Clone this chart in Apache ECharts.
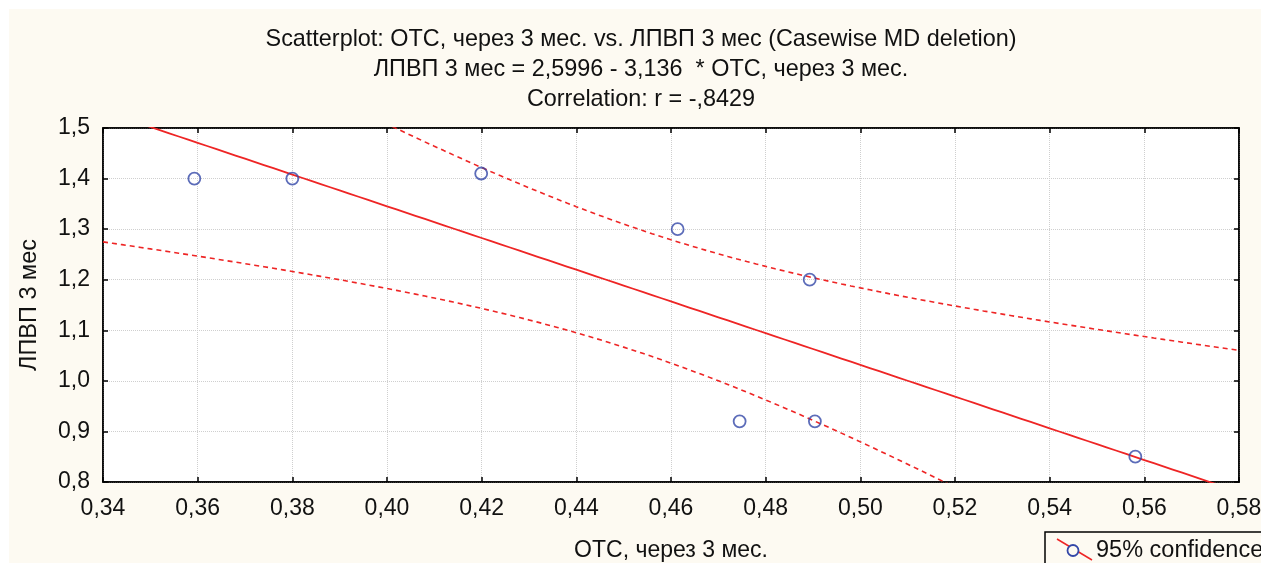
<!DOCTYPE html>
<html>
<head>
<meta charset="utf-8">
<script src="https://cdn.jsdelivr.net/npm/echarts@6/dist/echarts.min.js"></script>
<style>
html,body{margin:0;padding:0;background:#fff;}
#chart{width:1261px;height:563px;}
</style>
</head>
<body>
<div id="chart"></div>
<script>
// ---- data ----
var otcValues = [0.3593, 0.3800, 0.4199, 0.4614, 0.4893, 0.4745, 0.4904, 0.5581];
var hdlValues = [1.40, 1.40, 1.41, 1.30, 1.20, 0.92, 0.92, 0.85];
var titleLines = [
  'Scatterplot: OTC, через 3 мес. vs. ЛПВП 3 мес (Casewise MD deletion)',
  'ЛПВП 3 мес = 2,5996 - 3,136  * OTC, через 3 мес.',
  'Correlation: r = -,8429'
];
var xAxisName = 'OTC, через 3 мес.';
var yAxisName = 'ЛПВП 3 мес';
var legendLabel = '95% confidence';
var xRange = [0.34, 0.58];
var yRange = [0.8, 1.5];
var intercept = 2.5996;
var slope = -3.136;
var tCrit = 2.4469; // t(0.975, df = n-2 = 6)

// ---- regression line and 95% confidence band of the mean ----
var n = otcValues.length;
var xMean = otcValues.reduce(function(a,b){return a+b;},0)/n;
var sxx = 0, sse = 0;
for (var i = 0; i < n; i++) {
  sxx += Math.pow(otcValues[i]-xMean, 2);
  sse += Math.pow(hdlValues[i] - (intercept + slope*otcValues[i]), 2);
}
var s = Math.sqrt(sse/(n-2));
var fitLine = [], upper = [], lower = [];
var steps = 120;
for (var k = 0; k <= steps; k++) {
  var x = xRange[0] + (xRange[1]-xRange[0])*k/steps;
  var yh = intercept + slope*x;
  var h = tCrit * s * Math.sqrt(1/n + Math.pow(x-xMean,2)/sxx);
  fitLine.push([x, yh]);
  upper.push([x, yh + h]);
  lower.push([x, yh - h]);
}
var points = otcValues.map(function(v,i){return [v, hdlValues[i]];});

var red = '#ee2525';
var blue = '#3347a8';
var cream = '#fdfaf2';
var font = 'Arial, "Liberation Sans", sans-serif';

var chart = echarts.init(document.getElementById('chart'), null, {renderer:'canvas'});
function comma(v, d){ return v.toFixed(d).replace('.', ','); }
var splitLine = {show:true, lineStyle:{color:'#cfcfcf', type:'dotted', width:1}};
var option = {
  backgroundColor: '#ffffff',
  animation: false,
  title: titleLines.map(function(t, i){
    return {text: t, left: 641, top: 28 + 30*i, textAlign: 'center', padding: 0,
      textStyle:{fontFamily: font, fontSize: 23.4, fontWeight: 'normal', color:'#111', lineHeight: 24}};
  }),
  graphic: [
    {type:'rect', z:-10, shape:{x:9, y:9, width:1252, height:554}, style:{fill:cream}},
    {type:'rect', z:10, shape:{x:1045, y:532, width:240, height:40}, style:{fill:cream, stroke:'#000', lineWidth:1.5}},
    {type:'line', z:11, shape:{x1:1057, y1:539, x2:1092, y2:560}, style:{stroke:red, lineWidth:1.5}},
    {type:'circle', z:12, shape:{cx:1073, cy:550.5, r:5.5}, style:{fill:cream, stroke:blue, lineWidth:1.8}},
    {type:'text', z:12, x:1096, y:551, style:{text:legendLabel, fill:'#111', font:'23.5px Arial, "Liberation Sans", sans-serif', textVerticalAlign:'middle'}}
  ],
  grid: {left:103, top:128, right:22, bottom:81, containLabel:false, outerBoundsMode:'none',
         show:true, backgroundColor:'#ffffff', borderColor:'#000', borderWidth:1.5},
  xAxis: [
    {type:'value', min:xRange[0], max:xRange[1], interval:0.02, position:'bottom',
     name:xAxisName, nameLocation:'middle', nameGap:57,
     nameTextStyle:{fontFamily:font, fontSize:23, color:'#111'},
     axisLine:{show:true, onZero:false, lineStyle:{color:'#000', width:1.5}},
     axisTick:{show:true, inside:true, length:5, lineStyle:{color:'#000', width:1.5}},
     axisLabel:{margin:15, fontFamily:font, fontSize:23, color:'#111', formatter:function(v){return comma(v,2);}},
     splitLine:splitLine},
    {type:'value', min:xRange[0], max:xRange[1], interval:0.02, position:'top',
     axisLine:{show:true, onZero:false, lineStyle:{color:'#000', width:1.5}},
     axisTick:{show:true, inside:true, length:5, lineStyle:{color:'#000', width:1.5}},
     axisLabel:{show:false}, splitLine:{show:false}}
  ],
  yAxis: [
    {type:'value', min:yRange[0], max:yRange[1], interval:0.1, position:'left',
     name:yAxisName, nameLocation:'middle', nameGap:61,
     nameTextStyle:{fontFamily:font, fontSize:23.5, color:'#111'},
     axisLine:{show:true, onZero:false, lineStyle:{color:'#000', width:1.5}},
     axisTick:{show:true, inside:true, length:5, lineStyle:{color:'#000', width:1.5}},
     axisLabel:{margin:13, fontFamily:font, fontSize:23, color:'#111', formatter:function(v){return comma(v,1);}},
     splitLine:splitLine},
    {type:'value', min:yRange[0], max:yRange[1], interval:0.1, position:'right',
     axisLine:{show:true, onZero:false, lineStyle:{color:'#000', width:1.5}},
     axisTick:{show:true, inside:true, length:5, lineStyle:{color:'#000', width:1.5}},
     axisLabel:{show:false}, splitLine:{show:false}}
  ],
  series: [
    {type:'line', name:'fit', data:fitLine, showSymbol:false, clip:true, z:3,
     lineStyle:{color:red, width:1.8}},
    {type:'line', name:'upper', data:upper, showSymbol:false, clip:true, smooth:false, z:3,
     lineStyle:{color:red, width:1.6, type:[5,4]}},
    {type:'line', name:'lower', data:lower, showSymbol:false, clip:true, smooth:false, z:3,
     lineStyle:{color:red, width:1.6, type:[5,4]}},
    {type:'scatter', name:legendLabel, data:points, symbol:'circle', symbolSize:12, z:5,
     itemStyle:{color:'rgba(255,255,255,0)', borderColor:blue, borderWidth:1.8}}
  ]
};
chart.setOption(option);
</script>
</body>
</html>
